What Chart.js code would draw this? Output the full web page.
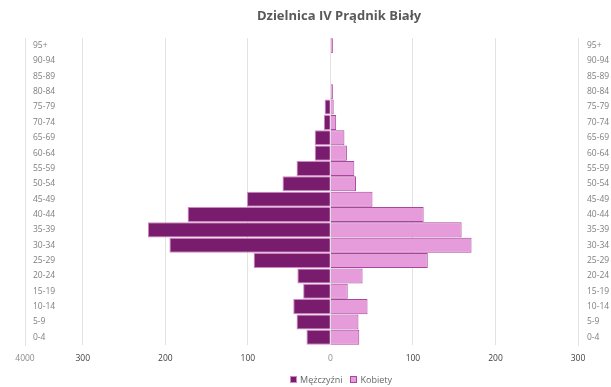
<!DOCTYPE html>
<html>
<head>
<meta charset="utf-8">
<script src="https://cdn.jsdelivr.net/npm/chart.js@4.4.0/dist/chart.umd.min.js"></script>
<style>
  html, body { margin: 0; padding: 0; background: #fff; }
  #wrap { position: relative; width: 611px; height: 387px; font-family: "Open Sans", sans-serif; }
  #title { position: absolute; left: 239px; width: 200px; top: 6px; text-align: center; font-weight: bold; font-size: 13px; color: #595959; white-space: nowrap; }
  #legend { position: absolute; left: 241px; width: 200px; top: 373px; text-align: center; font-size: 9px; color: #666; white-space: nowrap; }
  #legend span.box { display: inline-block; width: 5px; height: 5px; margin-right: 3px; vertical-align: middle; position: relative; top: -1px; }
  #legend span.item { margin: 0 4px; }
</style>
</head>
<body>
<div id="wrap">
  <canvas id="c" width="611" height="387"></canvas>
  <div id="title">Dzielnica IV Prądnik Biały</div>
  <div id="legend"></div>
</div>
<script>
const ageGroups = ["0-4","5-9","10-14","15-19","20-24","25-29","30-34","35-39","40-44","45-49","50-54","55-59","60-64","65-69","70-74","75-79","80-84","85-89","90-94","95+"];
const men   = [29,41,45,33,40,93,195,221,173,101,58,41,19,19,8,7,0,0,0,0];
const women = [35,34,45,21,39,118,171,159,113,51,31,29,20,17,7,4,3,0,0,3];
const xTicks = [-370,-300,-200,-100,0,100,200,300];
const xTickLabels = ["4000","300","200","100","0","100","200","300"];
const seriesNames = ["Mężczyźni","Kobiety"];

const menFill = "#7a1c6d", menBorder = "#cf86c3";
const womenFill = "#e69bdb", womenBorder = "#a8479d";

const lg = document.getElementById('legend');
[[seriesNames[0], menFill, menBorder],[seriesNames[1], womenFill, womenBorder]].forEach(([n,f,b]) => {
  const it = document.createElement('span'); it.className='item';
  const bx = document.createElement('span'); bx.className='box';
  bx.style.background=f; bx.style.border='1px solid '+b;
  it.appendChild(bx); it.appendChild(document.createTextNode(n));
  lg.appendChild(it);
});

const tickFont = { family: "Open Sans", size: 8.5 };

new Chart(document.getElementById('c'), {
  type: 'bar',
  data: {
    labels: ageGroups,
    datasets: [
      { label: seriesNames[0], data: men.map(v => -v), backgroundColor: menFill, borderColor: menBorder, borderWidth: 1, barPercentage: 1, categoryPercentage: 0.98, yAxisID: 'y' },
      { label: seriesNames[1], data: women, backgroundColor: womenFill, borderColor: womenBorder, borderWidth: 1, barPercentage: 1, categoryPercentage: 0.98, yAxisID: 'y' }
    ]
  },
  options: {
    indexAxis: 'y',
    responsive: false,
    animation: false,
    layout: { padding: { left: 25, right: 0, top: 38, bottom: 0 } },
    plugins: { legend: { display: false }, title: { display: false }, tooltip: { enabled: false } },
    scales: {
      x: {
        stacked: true,
        min: -370, max: 300,
        afterBuildTicks: (ax) => { ax.ticks = xTicks.map(v => ({ value: v })); },
        afterFit: (ax) => { ax.height = 42; },
        grid: { color: '#e3e3e3', drawTicks: false },
        border: { display: false },
        ticks: {
          padding: 8,
          font: tickFont,
          color: (ctx) => (ctx.tick && (ctx.tick.value === 0 || ctx.tick.value === -370)) ? '#8c8c8c' : '#404040',
          callback: (v, i) => xTickLabels[i]
        }
      },
      y: {
        stacked: true,
        reverse: true,
        position: 'left',
        afterFit: (ax) => { ax.width = 0; },
        grid: { display: false, drawTicks: false },
        border: { display: true, color: '#e3e3e3' },
        ticks: { mirror: true, padding: 8, font: tickFont, color: '#7f7f7f', autoSkip: false }
      },
      y2: {
        type: 'category',
        labels: ageGroups,
        reverse: true,
        position: 'right',
        afterFit: (ax) => { ax.width = 33; },
        grid: { display: false, drawTicks: false },
        border: { display: true, color: '#e3e3e3' },
        ticks: { padding: 9, font: tickFont, color: '#7f7f7f', autoSkip: false }
      }
    }
  }
});
</script>
</body>
</html>
